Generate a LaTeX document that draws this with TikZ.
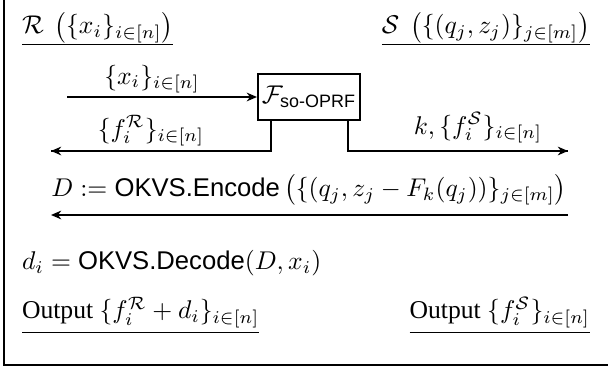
\documentclass[tikz,border=0pt]{standalone}
\usepackage[no-math]{fontspec}
\setmainfont{Liberation Serif}
\setsansfont{Liberation Sans}
\usetikzlibrary{arrows.meta,calc}
\begin{document}
\begin{tikzpicture}[x=0.39pt,y=-0.39pt,
  lbl/.style={inner sep=0pt,outer sep=0pt},
  under/.style={line width=0.45pt},
  flow/.style={line width=0.8pt,-{Stealth[length=4pt,width=3.4pt]}},
  wire/.style={line width=0.8pt},
  func/.style={draw,line width=0.8pt,minimum width=39.8pt,minimum height=17.9pt,inner sep=0pt},
  frame/.style={line width=1pt}]
\useasboundingbox (0,0) rectangle (608,368);
% frame
\coordinate (ftop) at (4,0);
\coordinate (fbl) at (4,365);
\coordinate (fbr) at (608,365);
\draw[frame] (ftop) -- (fbl) -- (fbr);
% parties
\node[lbl,anchor=base west] (rlab) at (22,34) {$\mathcal{R}\ \left(\{x_i\}_{i\in[n]}\right)$};
\draw[under] ($(rlab.south west)+(0,1.5)$) -- ($(rlab.south east)+(0,1.5)$);
\node[lbl,anchor=base east] (slab) at (590,34) {$\mathcal{S}\ \left(\{(q_j,z_j)\}_{j\in[m]}\right)$};
\draw[under] ($(slab.south west)+(0,1.5)$) -- ($(slab.south east)+(0,1.5)$);
% functionality
\node[func] (box) at (309,97) {$\mathcal{F}_{\mbox{\sffamily\scriptsize so-OPRF}}$};
\coordinate (in0) at (67,97);
\draw[flow] (in0) -- (box.west);
\node[lbl] (xin) at (152,79) {$\{x_i\}_{i\in[n]}$};
\coordinate (lout) at (51,151);
\coordinate (rout) at (568,151);
\coordinate (lstub) at ($(box.south west)+(14,0)$);
\coordinate (rstub) at ($(box.south east)+(-13,0)$);
\draw[wire] (lstub) |- (lout);
\draw[flow] ($(lout)+(60,0)$) -- (lout);
\draw[wire] (rstub) |- (rout);
\draw[flow] ($(rout)+(-60,0)$) -- (rout);
\node[lbl] (fr) at (151,131) {$\{f_i^{\mathcal{R}}\}_{i\in[n]}$};
\node[lbl] (fs) at (478,128) {$k,\{f_i^{\mathcal{S}}\}_{i\in[n]}$};
% OKVS message
\coordinate (e1) at (568,215);
\coordinate (e0) at (51,215);
\draw[flow] (e1) -- (e0);
\node[lbl] (enc) at (309,190) {$D := \textsf{OKVS.Encode}\left(\{(q_j,z_j-F_k(q_j))\}_{j\in[m]}\right)$};
% decode
\node[lbl,anchor=west] (dec) at (22,263) {$d_i = \textsf{OKVS.Decode}(D,x_i)$};
% outputs
\node[lbl,anchor=base west] (ol) at (22,319) {Output $\{f_i^{\mathcal{R}}+d_i\}_{i\in[n]}$};
\draw[under] ($(ol.south west)+(0,4)$) -- ($(ol.south east)+(0,4)$);
\node[lbl,anchor=base east] (or) at (590,319) {Output $\{f_i^{\mathcal{S}}\}_{i\in[n]}$};
\draw[under] ($(or.south west)+(0,4)$) -- ($(or.south east)+(0,4)$);
\end{tikzpicture}
\end{document}
